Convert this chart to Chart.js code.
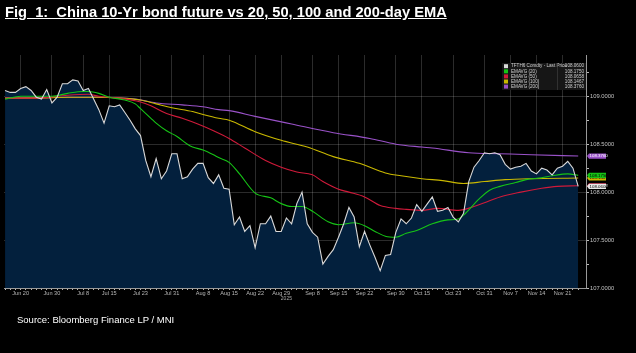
<!DOCTYPE html>
<html><head><meta charset="utf-8">
<script src="https://cdn.jsdelivr.net/npm/chart.js@4/dist/chart.umd.min.js"></script>
<style>
html,body{margin:0;padding:0;background:#000;width:636px;height:353px;overflow:hidden}
#wrap{position:relative;width:636px;height:353px}
canvas{position:absolute;left:0;top:0}
#title{position:absolute;left:5px;top:4px;color:#fff;font:bold 14.5px "Liberation Sans",Arial,sans-serif;text-decoration:underline;white-space:nowrap;transform-origin:0 0}
#src{position:absolute;left:17px;top:314px;color:#fff;font:9.5px "Liberation Sans",Arial,sans-serif;white-space:nowrap}
</style></head>
<body><div id="wrap">
<canvas id="c" width="636" height="353"></canvas>
<div id="title">Fig&nbsp; 1:&nbsp; China 10-Yr bond future vs 20, 50, 100 and 200-day EMA</div>
<div id="src">Source: Bloomberg Finance LP / MNI</div>
</div>
<script>
// trading-day index -> date label shown on the axis
const tickIdx = [3,9,15,20,26,32,38,43,48,53,59,64,69,75,80,86,92,97,102,107];
const tickLabels = ["Jun 20","Jun 30","Jul 8","Jul 15","Jul 23","Jul 31","Aug 8","Aug 15","Aug 22","Aug 29","Sep 8","Sep 15","Sep 22","Sep 30","Oct 15","Oct 23","Oct 31","Nov 7","Nov 14","Nov 21"];
// daily last price (Jun 17 .. Nov 26, trading days)
const price = [109.06,109.04,109.04,109.08,109.10,109.06,108.99,108.97,109.07,108.93,
108.99,109.13,109.13,109.17,109.16,109.06,109.08,108.97,108.86,108.72,
108.90,108.89,108.91,108.83,108.75,108.66,108.59,108.33,108.16,108.35,
108.14,108.22,108.40,108.40,108.14,108.16,108.24,108.30,108.30,108.15,
108.09,108.18,108.04,108.03,107.66,107.74,107.59,107.65,107.42,107.67,
107.67,107.75,107.59,107.59,107.73,107.67,107.88,108.00,107.67,107.58,
107.53,107.25,107.33,107.40,107.53,107.67,107.84,107.74,107.43,107.59,
107.45,107.32,107.18,107.34,107.35,107.58,107.72,107.67,107.73,107.87,
107.80,107.875,107.95,107.80,107.81,107.84,107.74,107.69,107.78,108.11,
108.26,108.33,108.41,108.40,108.41,108.39,108.29,108.24,108.26,108.27,
108.30,108.22,108.19,108.25,108.23,108.18,108.25,108.27,108.32,108.25,108.06];
// EMAs read at selected trading-day indices [index, value]
const ema20 = [[0,108.97],[3,109.00],[7,109.00],[9,109.00],[12,109.03],[15,109.05],[16,109.05],[18,109.03],[20,108.99],[23,108.96],[25,108.92],[26,108.87],[28,108.77],[29,108.72],[31,108.64],[33,108.58],[35,108.50],[36,108.47],[38,108.44],[40,108.39],[41,108.36],[43,108.31],[45,108.19],[48,107.99],[51,107.94],[53,107.88],[55,107.85],[57,107.85],[59,107.80],[62,107.69],[64,107.66],[67,107.68],[69,107.65],[71,107.59],[73,107.54],[75,107.53],[77,107.57],[79,107.60],[82,107.67],[85,107.71],[87,107.72],[88,107.76],[91,107.93],[93,108.02],[95,108.06],[98,108.10],[100,108.13],[103,108.15],[105,108.17],[108,108.19],[110,108.175]];
const ema50 = [[0,108.98],[6,108.98],[12,109.01],[16,109.02],[18,109.00],[22,108.98],[26,108.94],[28,108.90],[31,108.82],[34,108.77],[37,108.71],[40,108.64],[43,108.56],[46,108.46],[50,108.33],[53,108.26],[56,108.21],[59,108.18],[61,108.11],[64,108.03],[66,108.00],[69,107.95],[72,107.86],[75,107.83],[77,107.82],[80,107.81],[83,107.83],[87,107.81],[90,107.85],[92,107.89],[95,107.95],[99,108.00],[103,108.04],[106,108.06],[110,108.066]];
const ema100 = [[0,108.98],[6,108.98],[12,108.99],[18,108.99],[22,108.98],[26,108.96],[29,108.92],[32,108.88],[36,108.84],[38,108.81],[41,108.77],[43,108.75],[48,108.63],[53,108.54],[58,108.47],[63,108.37],[68,108.30],[73,108.20],[76,108.17],[80,108.14],[84,108.12],[88,108.09],[92,108.11],[96,108.13],[101,108.14],[110,108.147]];
const ema200 = [[0,108.98],[12,108.99],[18,108.99],[25,108.97],[29,108.93],[34,108.91],[38,108.89],[41,108.86],[43,108.85],[48,108.79],[55,108.71],[63,108.62],[70,108.56],[75,108.50],[80,108.47],[82,108.46],[89,108.41],[95,108.40],[101,108.39],[110,108.376]];
const legendNames = ["TFTH6 Comdty - Last Price","EMAVG (20)","EMAVG (50)","EMAVG (100)","EMAVG (200)"];
const legendValues = ["108.0600","108.1750","108.0658","108.1467","108.3760"];
const yearLabel = "2025";

const colors = {price:"#d9d9d9", e20:"#16c416", e50:"#d01a3a", e100:"#c9b800", e200:"#9a52c9"};
const toPts = a => a.map(p => ({x:p[0], y:p[1]}));

// fit title width
const t = document.getElementById('title');
t.style.transform = 'scaleX(' + (442 / t.scrollWidth) + ')';

const extras = {
  id:'extras',
  afterDraw(chart){
    const ctx = chart.ctx, y = chart.scales.y, x = chart.scales.x;
    ctx.save();
    // year label
    ctx.fillStyle = '#aaa'; ctx.font = '5px "Liberation Sans", Arial'; ctx.textAlign='center'; ctx.textBaseline='middle';
    ctx.fillText(yearLabel, x.getPixelForValue(54), 299);
    // legend box
    const lx = 502, ly = 63, lw = 84, lh = 27;
    ctx.fillStyle = '#161616'; ctx.fillRect(lx, ly, lw, lh);
    const cols = [colors.price, colors.e20, colors.e50, colors.e100, colors.e200];
    ctx.font = '4.6px "Liberation Sans", Arial'; ctx.textBaseline='middle';
    for (let i=0;i<5;i++){
      const ry = ly + 3.2 + i*5.1;
      ctx.fillStyle = cols[i]; ctx.fillRect(lx+2, ry-2, 4, 4);
      ctx.fillStyle = '#d0d0d0'; ctx.textAlign='left'; ctx.fillText(legendNames[i], lx+9, ry);
      ctx.textAlign='right'; ctx.fillText(legendValues[i], lx+lw-2, ry);
    }
    ctx.strokeStyle='#444'; ctx.lineWidth=0.6; ctx.beginPath(); ctx.moveTo(lx+55.5, ly); ctx.lineTo(lx+55.5, ly+lh); ctx.stroke();
    // value tags at right axis
    const tags = [
      {v:108.066, c:colors.e50, t:legendValues[2], tc:'#fff'},
      {v:108.147, c:colors.e100, t:legendValues[3], tc:'#000'},
      {v:108.175, c:colors.e20, t:legendValues[1], tc:'#000'},
      {v:108.376, c:colors.e200, t:legendValues[4], tc:'#fff'},
      {v:108.06, c:'#e8e8e8', t:legendValues[0], tc:'#000'}
    ];
    ctx.font = '4.4px "Liberation Sans", Arial'; ctx.textAlign='left';
    for (const g of tags){
      const py = y.getPixelForValue(g.v);
      ctx.fillStyle = g.c;
      ctx.beginPath(); ctx.moveTo(587, py); ctx.lineTo(589, py-2.6); ctx.lineTo(606, py-2.6); ctx.lineTo(606, py+2.6); ctx.lineTo(589, py+2.6); ctx.closePath(); ctx.fill();
      ctx.fillStyle = g.tc; ctx.fillText(g.t, 589.5, py+0.2);
    }
    ctx.restore();
  }
};

new Chart(document.getElementById('c'), {
  type:'line',
  data:{
    datasets:[
      {label:'Last Price', data: price.map((v,i)=>({x:i,y:v})), borderColor:colors.price, borderWidth:1.1, pointRadius:0, tension:0, fill:'start', backgroundColor:'#03203d', order:0},
      {label:'EMAVG (20)', data: toPts(ema20), borderColor:colors.e20, borderWidth:1.1, pointRadius:0, cubicInterpolationMode:'monotone', fill:false, order:1},
      {label:'EMAVG (50)', data: toPts(ema50), borderColor:colors.e50, borderWidth:1.1, pointRadius:0, cubicInterpolationMode:'monotone', fill:false, order:2},
      {label:'EMAVG (100)', data: toPts(ema100), borderColor:colors.e100, borderWidth:1.1, pointRadius:0, cubicInterpolationMode:'monotone', fill:false, order:3},
      {label:'EMAVG (200)', data: toPts(ema200), borderColor:colors.e200, borderWidth:1.1, pointRadius:0, cubicInterpolationMode:'monotone', fill:false, order:4}
    ]
  },
  options:{
    responsive:false, animation:false, devicePixelRatio:1,
    layout:{padding:{top:55,left:4,right:0,bottom:0}},
    plugins:{legend:{display:false}, tooltip:{enabled:false}, filler:{drawTime:'beforeDatasetsDraw'}},
    scales:{
      x:{type:'linear', min:-0.2, max:111.5,
        afterBuildTicks(s){ const a=[]; for(let i=0;i<=110;i++) a.push({value:i}); s.ticks=a; },
        afterFit(s){ s.height = 353-288; },
        ticks:{autoSkip:false, maxRotation:0, padding:0, color:'#b8b8b8', font:{size:5.6, family:'"Liberation Sans", Arial'},
          callback(v){ const k=tickIdx.indexOf(v); return k>=0?tickLabels[k]:''; }},
        grid:{color(c){ return (c.tick && tickIdx.includes(c.tick.value)) ? 'rgba(255,255,255,0.17)' : 'rgba(0,0,0,0)'; },
          tickColor:'#bbb', tickLength:2, lineWidth:1},
        border:{display:true, color:'#999', width:1}
      },
      y:{type:'linear', position:'right', min:107, max:109.43,
        afterBuildTicks(s){ const a=[]; for(let v=107; v<=109.26; v+=0.25) a.push({value:Math.round(v*100)/100}); s.ticks=a; },
        afterFit(s){ s.width = 636-586; },
        ticks:{padding:1, color:'#c0c0c0', font:{size:5.8, family:'"Liberation Sans", Arial'},
          callback(v){ return (Math.abs(v*2-Math.round(v*2))<1e-6) ? v.toFixed(4) : ''; }},
        grid:{color(c){ const v=c.tick?c.tick.value:0; return (Math.abs(v*2-Math.round(v*2))<1e-6 && v>107.01) ? 'rgba(255,255,255,0.17)' : 'rgba(0,0,0,0)'; },
          tickColor:'#bbb', tickLength:3, lineWidth:1},
        border:{display:true, color:'#999', width:1}
      }
    }
  },
  plugins:[extras]
});
</script>
</body></html>
